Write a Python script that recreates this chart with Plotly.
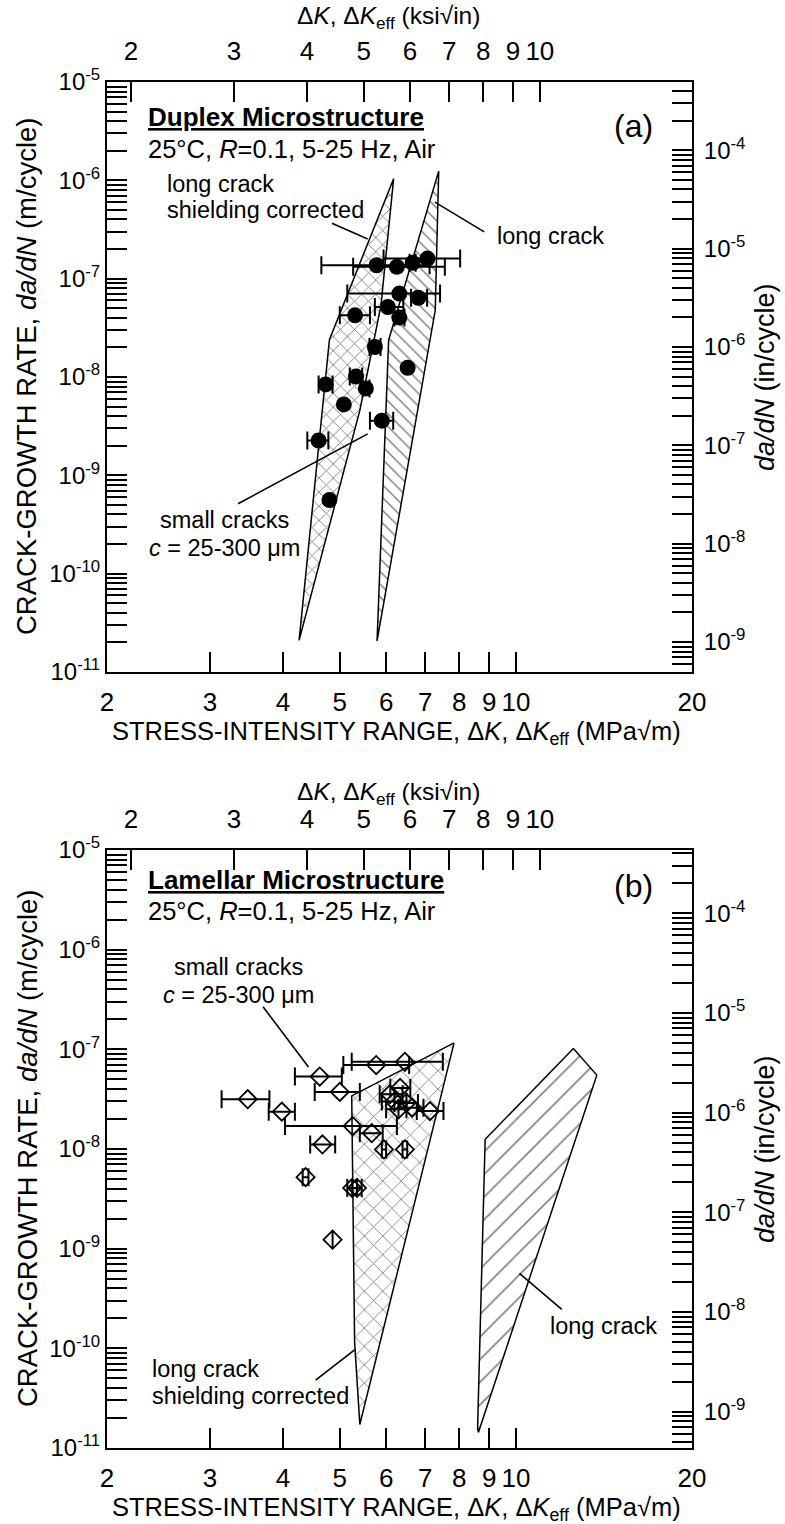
import math
import plotly.graph_objects as go

W, H = 785, 1524
MPA_PER_KSI = 1.0988   # 1 ksi*sqrt(in) in MPa*sqrt(m)
IN_PER_M = 39.37

# ---------------- axis ticks ----------------
mpa_ticks = [2, 3, 4, 5, 6, 7, 8, 9, 10, 20]
ksi_ticks = [2, 3, 4, 5, 6, 7, 8, 9, 10]
m_exponents = [-11, -10, -9, -8, -7, -6, -5]
in_exponents = [-9, -8, -7, -6, -5, -4]
K_RANGE = [2, 20]
RATE_RANGE = [1e-11, 1e-5]

# ---------------- (a) Duplex: small cracks ----------------
duplex_dK = [5.78, 6.26, 6.66, 7.06, 6.32, 6.81, 6.04, 5.31, 6.32, 5.74,
             6.53, 4.73, 5.33, 5.54, 5.08, 5.90, 4.60, 4.80]
duplex_rate = [1.37e-7, 1.32e-7, 1.45e-7, 1.60e-7, 7.05e-8, 6.4e-8, 5.15e-8,
               4.24e-8, 4.02e-8, 2.02e-8, 1.24e-8, 8.4e-9, 1.01e-8, 7.66e-9,
               5.26e-9, 3.6e-9, 2.26e-9, 5.6e-10]
duplex_dK_low = [4.65, 5.27, 6.58, 5.94, 5.15, 6.62, 5.74, 5.00, 6.20, 5.62,
                 6.53, 4.60, 5.20, 5.47, 5.08, 5.63, 4.40, 4.80]
duplex_dK_high = [7.12, 7.56, 6.74, 8.03, 7.42, 7.05, 6.42, 5.63, 6.45, 5.87,
                  6.53, 4.86, 5.46, 5.62, 5.08, 6.17, 4.78, 4.80]

# (a) bands (dK MPa*sqrt(m), da/dN m/cycle)
duplex_shield_dK = [6.18, 5.88, 5.41, 4.26, 4.80, 6.18]
duplex_shield_rate = [1.04e-6, 5.36e-8, 4.57e-9, 2.1e-11, 2.4e-8, 1.04e-6]
duplex_long_dK = [7.38, 7.28, 5.79, 6.06, 7.38]
duplex_long_rate = [1.24e-6, 4.77e-8, 2.07e-11, 2.37e-8, 1.24e-6]

# ---------------- (b) Lamellar: small cracks ----------------
lamellar_dK = [4.62, 3.48, 3.98, 5.00, 5.77, 6.46, 5.26, 5.67, 4.67, 5.95,
               6.46, 6.09, 6.34, 6.20, 6.50, 6.65, 6.30, 7.13, 4.37, 5.25,
               5.35, 4.86]
lamellar_rate = [5.33e-8, 3.16e-8, 2.37e-8, 3.74e-8, 6.95e-8, 7.5e-8, 1.70e-8,
                 1.44e-8, 1.11e-8, 9.9e-9, 9.9e-9, 3.55e-8, 4.1e-8, 3.0e-8,
                 2.9e-8, 2.6e-8, 2.5e-8, 2.4e-8, 5.22e-9, 4.07e-9, 4.07e-9,
                 1.23e-9]
lamellar_dK_low = [4.19, 3.14, 3.78, 4.53, 5.07, 5.24, 4.03, 5.41, 4.45, 5.90,
                   6.40, 5.85, 6.10, 5.90, 6.20, 6.30, 6.00, 6.77, 4.32, 5.15,
                   5.25, 4.86]
lamellar_dK_high = [5.04, 3.79, 4.19, 5.41, 6.57, 7.50, 6.26, 5.92, 4.91, 6.00,
                    6.52, 6.40, 6.60, 6.50, 6.80, 6.95, 6.50, 7.52, 4.42, 5.35,
                    5.45, 4.86]

# (b) bands
lamellar_shield_dK = [7.84, 5.41, 5.30, 5.24, 7.84]
lamellar_shield_rate = [1.16e-7, 1.72e-11, 1.16e-10, 3.41e-8, 1.16e-7]
lamellar_long_dK = [12.54, 13.75, 8.63, 8.60, 8.86, 12.54]
lamellar_long_rate = [1.02e-7, 5.51e-8, 1.44e-11, 1.55e-11, 1.25e-8, 1.02e-7]

# ---------------- styling ----------------
FONT = "Liberation Sans, Arial, Helvetica, sans-serif"
LW = 2
TICKLEN = 20

lg = math.log10

# panel frames in pixels (left, right, top, bottom) and top-title y
FRAMES = {
    "a": (107, 692, 82, 672, 18),
    "b": (107, 692, 850, 1448, 793),
}
# small visual offset of the in/cycle scale as drawn in the original (decades)
RIGHT_SHIFT = {"a": 0.10, "b": 0.04}


def minor_vals(e0, e1):
    return [m * 10.0 ** e for e in range(e0, e1 + 1) for m in range(2, 10)]


def sup(e):
    return "10<sup>%d</sup>" % e


fig = go.Figure()


def add_panel(tag, xid, x2id, yid, y2id, dK, rate, lo, hi, sym, shield, longc,
              shield_pat, long_pat):
    xa, ya = xid, yid
    # bands
    for poly, pat in ((shield, shield_pat), (longc, long_pat)):
        fig.add_trace(go.Scatter(
            x=poly[0], y=poly[1], xaxis=xa, yaxis=ya, mode="lines",
            fill="toself", fillcolor="white",
            fillpattern=dict(shape=pat[0], size=pat[1], solidity=pat[2],
                             fgcolor="black", bgcolor="white"),
            line=dict(color="black", width=1.5), hoverinfo="skip"))
    # data with error bars
    sel = [i for i in range(len(dK)) if not (sym == "circle" and hi[i] == lo[i])]
    rest = [i for i in range(len(dK)) if i not in sel]
    if sym == "circle":
        marker = dict(symbol="circle", size=16, color="black")
    else:
        marker = dict(symbol="diamond-open", size=14, color="black",
                      line=dict(width=1.8, color="black"))
    fig.add_trace(go.Scatter(
        x=[dK[i] for i in sel], y=[rate[i] for i in sel], xaxis=xa, yaxis=ya,
        mode="markers", marker=marker,
        error_x=dict(type="data", symmetric=False,
                     array=[hi[i] - dK[i] for i in sel],
                     arrayminus=[dK[i] - lo[i] for i in sel],
                     color="black", thickness=2, width=9)))
    if rest:
        fig.add_trace(go.Scatter(
            x=[dK[i] for i in rest], y=[rate[i] for i in rest], xaxis=xa,
            yaxis=ya, mode="markers", marker=marker))
    # dummy trace for secondary axes
    fig.add_trace(go.Scatter(x=[None], y=[None], xaxis=x2id, yaxis=y2id,
                             mode="markers", showlegend=False, hoverinfo="skip"))

    l, r, t, b, ttop = FRAMES[tag]
    xdom = [l / W, r / W]
    ydom = [1 - b / H, 1 - t / H]
    common = dict(showline=True, linewidth=LW, linecolor="black",
                  ticks="inside", ticklen=TICKLEN, tickwidth=LW,
                  tickcolor="black", showgrid=False, zeroline=False,
                  type="log", automargin=False)
    xn = "xaxis" + xid[1:]
    x2n = "xaxis" + x2id[1:]
    yn = "yaxis" + yid[1:]
    y2n = "yaxis" + y2id[1:]
    sh = RIGHT_SHIFT[tag]
    fig.layout[xn] = dict(
        common, domain=xdom, anchor=yid, range=[lg(K_RANGE[0]), lg(K_RANGE[1])],
        tickmode="array", tickvals=mpa_ticks,
        ticktext=[str(v) for v in mpa_ticks], ticklabelstandoff=6,
        tickfont=dict(family=FONT, size=26, color="black"))
    fig.layout[x2n] = dict(
        common, overlaying=xid, anchor=yid, side="top",
        range=[lg(K_RANGE[0] / MPA_PER_KSI), lg(K_RANGE[1] / MPA_PER_KSI)],
        tickmode="array", tickvals=ksi_ticks,
        ticktext=[str(v) for v in ksi_ticks], ticklabelstandoff=10,
        tickfont=dict(family=FONT, size=26, color="black"))
    fig.layout[yn] = dict(
        common, domain=ydom, anchor=xid,
        range=[lg(RATE_RANGE[0]), lg(RATE_RANGE[1])],
        tickmode="array", tickvals=[10.0 ** e for e in m_exponents],
        ticktext=[sup(e) for e in m_exponents],
        tickfont=dict(family=FONT, size=24, color="black"),
        minor=dict(tickmode="array", tickvals=minor_vals(-11, -6),
                   ticks="inside", ticklen=TICKLEN, tickwidth=1.6,
                   tickcolor="black", showgrid=False))
    fig.layout[y2n] = dict(
        common, overlaying=yid, anchor=xid, side="right",
        range=[lg(RATE_RANGE[0] * IN_PER_M) + sh, lg(RATE_RANGE[1] * IN_PER_M) + sh],
        tickmode="array", tickvals=[10.0 ** e for e in in_exponents],
        ticktext=[sup(e) for e in in_exponents], ticklabelstandoff=5,
        tickfont=dict(family=FONT, size=24, color="black"),
        minor=dict(tickmode="array", tickvals=minor_vals(-10, -4),
                   ticks="inside", ticklen=TICKLEN, tickwidth=1.6,
                   tickcolor="black", showgrid=False))

    # axis titles (paper coords)
    cy = (t + b) / 2
    titles = [
        ("Δ<i>K</i>, Δ<i>K</i><sub>eff</sub> (ksi√in)", 388, ttop, 0, 24.5),
        ("STRESS-INTENSITY RANGE, Δ<i>K</i>, Δ<i>K</i><sub>eff</sub> (MPa√m)",
         396, b + 61, 0, 25.5),
        ("CRACK-GROWTH RATE, <i>da/dN</i> (m/cycle)", 27, cy, -90, 27.5),
        ("<i>da/dN</i> (in/cycle)", 765, cy, -90, 27),
    ]
    for txt, px, py, ang, fs in titles:
        fig.add_annotation(text=txt, x=px / W, y=1 - py / H, xref="paper",
                           yref="paper", showarrow=False, textangle=ang,
                           xanchor="center", yanchor="middle",
                           font=dict(family=FONT, size=fs, color="black"))


add_panel("a", "x", "x2", "y", "y2", duplex_dK, duplex_rate, duplex_dK_low,
          duplex_dK_high, "circle", (duplex_shield_dK, duplex_shield_rate),
          (duplex_long_dK, duplex_long_rate), ("x", 10, 0.17), ("\\", 9, 0.16))
add_panel("b", "x3", "x4", "y3", "y4", lamellar_dK, lamellar_rate,
          lamellar_dK_low, lamellar_dK_high, "diamond",
          (lamellar_shield_dK, lamellar_shield_rate),
          (lamellar_long_dK, lamellar_long_rate), ("x", 13, 0.13), ("/", 16, 0.1))


def text(xr, yr, k, lograte, s, size=23.5, anchor="left"):
    fig.add_annotation(text=s, x=lg(k), y=lograte, xref=xr, yref=yr,
                       showarrow=False, xanchor=anchor, yanchor="middle",
                       font=dict(family=FONT, size=size, color="black"))


def leader(xr, yr, k0, r0, k1, r1):
    fig.add_annotation(text="", x=lg(k1), y=r1, ax=lg(k0), ay=r0, xref=xr,
                       yref=yr, axref=xr, ayref=yr, showarrow=True,
                       arrowhead=0, arrowwidth=1.6, arrowcolor="black",
                       standoff=0, startstandoff=0)


# panel headers: (axes, name, tag, title log-rate, conditions log-rate, tag log-rate)
headers = [("x", "y", "Duplex", "(a)", -5.356, -5.68, -5.448),
           ("x3", "y3", "Lamellar", "(b)", -5.302, -5.613, -5.362)]
for xr, yr, name, tag, yt, yc, ytag in headers:
    text(xr, yr, 2.33, yt, "<b><u>%s Microstructure</u></b>" % name, size=26)
    text(xr, yr, 2.33, yc, "25°C, <i>R</i>=0.1, 5-25 Hz, Air", size=25.5)
    text(xr, yr, 15.86, ytag, tag, size=32, anchor="center")

# (a) labels
text("x", "y", 2.51, -6.033, "long crack")
text("x", "y", 2.51, -6.302, "shielding corrected")
text("x", "y", 9.22, -6.567, "long crack")
text("x", "y", 3.17, -9.456, "small cracks", anchor="center")
text("x", "y", 3.17, -9.736, "<i>c</i> = 25-300 μm", anchor="center")
leader("x", "y", 4.82, -6.429, 5.58, -6.597)
leader("x", "y", 8.88, -6.534, 7.27, -6.221)
leader("x", "y", 3.33, -9.297, 5.58, -8.578)

# (b) labels
text("x3", "y3", 3.35, -6.173, "small cracks", anchor="center")
text("x3", "y3", 3.35, -6.457, "<i>c</i> = 25-300 μm", anchor="center")
text("x3", "y3", 11.35, -9.774, "long crack")
text("x3", "y3", 2.37, -10.206, "long crack")
text("x3", "y3", 2.37, -10.477, "shielding corrected")
leader("x3", "y3", 3.68, -6.558, 4.42, -7.178)
leader("x3", "y3", 12.05, -9.623, 10.14, -9.248)
leader("x3", "y3", 4.52, -10.33, 5.30, -10.015)

fig.update_layout(width=W, height=H, margin=dict(l=0, r=0, t=0, b=0),
                  paper_bgcolor="white", plot_bgcolor="white",
                  showlegend=False)

fig.write_html("out.html")
